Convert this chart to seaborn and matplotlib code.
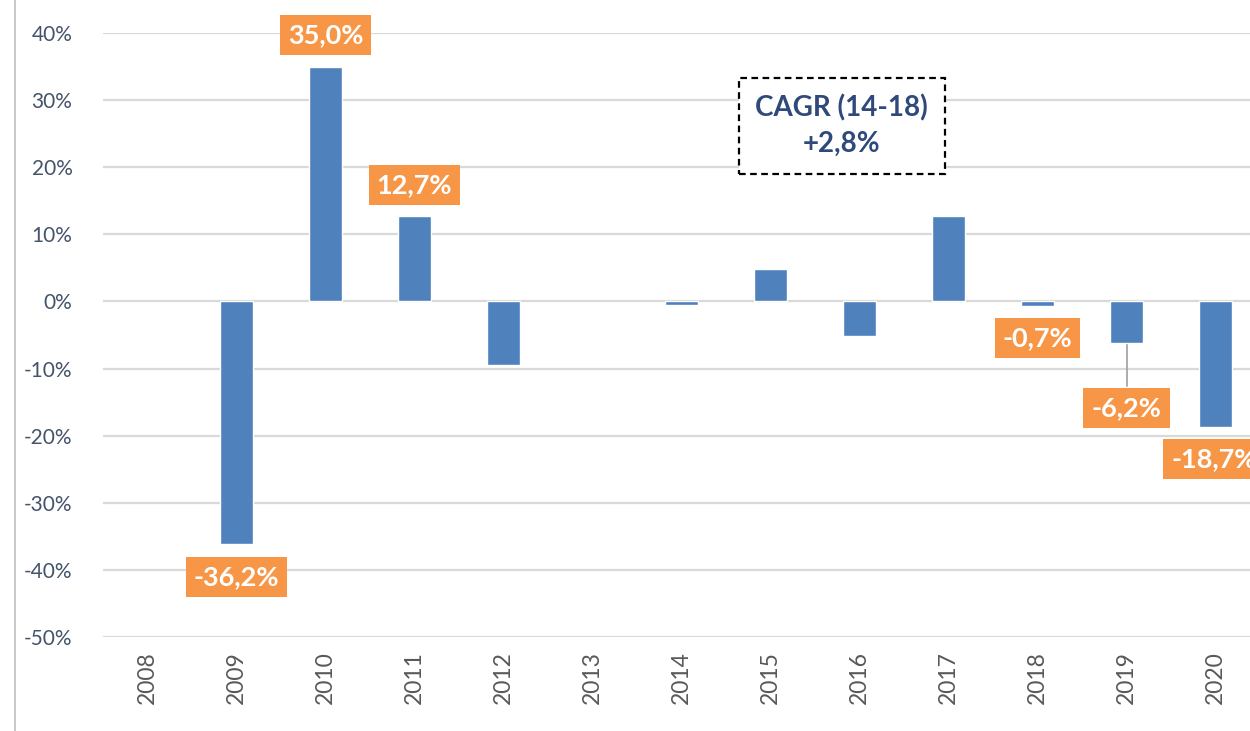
import numpy as np
import pandas as pd
import matplotlib
matplotlib.use("Agg")
import matplotlib.pyplot as plt
import seaborn as sns
from matplotlib.lines import Line2D

# data
years = ["2008", "2009", "2010", "2011", "2012", "2013", "2014",
         "2015", "2016", "2017", "2018", "2019", "2020"]
growth = [np.nan, -36.2, 35.0, 12.7, -9.5, np.nan, -0.6,
          4.9, -5.2, 12.8, -0.7, -6.2, -18.7]
labelled = ["2009", "2010", "2011", "2018", "2019", "2020"]
cagr_text = "CAGR (14-18)\n+2,8%"

df = pd.DataFrame({"year": years, "growth": growth})

sns.set_theme(style="white")
plt.rcParams["font.family"] = ["Lato", "DejaVu Sans"]

blue = "#4F81BD"
orange = "#F79646"
tick_blue = "#44546A"
grid_grey = "#D9D9D9"

fig = plt.figure(figsize=(12.5, 7.31), dpi=100)
ax = fig.add_axes([0.0824, 0.1286, 1.008 - 0.0824, 0.9549 - 0.1286])

sns.barplot(data=df, x="year", y="growth", color=blue, saturation=1,
            width=0.37, ax=ax, zorder=3)

ax.set_ylim(-50, 40)
ax.set_xlim(-0.5, len(years) - 0.5)
ax.set_yticks(np.arange(-50, 41, 10))
ax.set_yticklabels([f"{t}%" for t in range(-50, 41, 10)],
                   color=tick_blue, fontsize=15)
ax.tick_params(axis="y", length=0, pad=22)
ax.tick_params(axis="x", length=0, pad=10, labelrotation=90,
               labelsize=16.5, labelcolor="#595959")
ax.grid(axis="y", color=grid_grey, linewidth=1.6, zorder=0)
ax.set_xlabel("")
ax.set_ylabel("")
for s in ax.spines.values():
    s.set_visible(False)

# data labels (orange boxes), offset from bar end in % points
label_offset = {"2009": -4.9, "2010": 4.7, "2011": 4.7,
                "2018": -4.7, "2019": -9.7, "2020": -4.8}
for i, (yr, v) in enumerate(zip(years, growth)):
    if yr not in labelled:
        continue
    ypos = v + label_offset[yr]
    xpos = i - 0.02 if yr == "2020" else i
    if yr == "2019":
        ax.plot([i, i], [v, ypos + 3.3], color="#A6A6A6", lw=1.3, zorder=2)
    ax.text(xpos, ypos, f"{v:.1f}%".replace(".", ","), ha="center",
            va="center", color="white", fontsize=19.5, fontweight="bold",
            zorder=5, clip_on=False,
            bbox=dict(boxstyle="square,pad=0.3", fc=orange, ec="none"))

# CAGR callout
ax.text(7.80, 26.2, cagr_text, ha="center", va="center", color="#2F4A7A",
        fontsize=20, fontweight="bold", linespacing=1.45, zorder=5,
        bbox=dict(boxstyle="square,pad=0.6", fc="white", ec="black",
                  ls=(0, (3, 2)), lw=1.6))

# left frame line of the screenshot
fig.add_artist(Line2D([0.012, 0.012], [0, 1], color="#BFBFBF", lw=1.2,
                      transform=fig.transFigure))

fig.savefig("out.png", dpi=100)
